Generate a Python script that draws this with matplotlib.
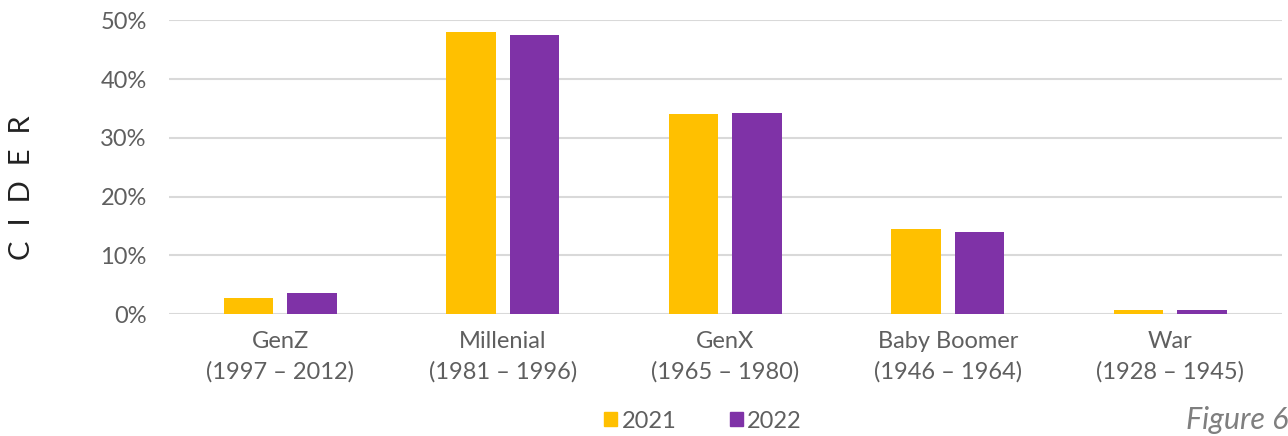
import matplotlib
matplotlib.use("Agg")
import matplotlib.pyplot as plt
import numpy as np
from matplotlib.ticker import FuncFormatter
from matplotlib.patches import Patch

categories = ["GenZ\n(1997 – 2012)", "Millenial\n(1981 – 1996)", "GenX\n(1965 – 1980)",
              "Baby Boomer\n(1946 – 1964)", "War\n(1928 – 1945)"]
series_names = ["2021", "2022"]
values_2021 = [2.7, 48.0, 34.1, 14.4, 0.7]
values_2022 = [3.5, 47.5, 34.2, 14.0, 0.6]
yticks = [0, 10, 20, 30, 40, 50]

colors = ["#FFC000", "#7F32A7"]
text_color = "#5F5F5F"
plt.rcParams['font.family'] = ['Lato', 'DejaVu Sans']

fig = plt.figure(figsize=(12.88, 4.36), dpi=100)
ax = fig.add_axes([169/1288, 1-314/436, (1281.5-169)/1288, (314-20.5)/436])

x = np.arange(len(categories))
w = 0.224
off = 0.143
ax.bar(x - off, values_2021, width=w, color=colors[0], zorder=3, label=series_names[0])
ax.bar(x + off, values_2022, width=w, color=colors[1], zorder=3, label=series_names[1])

ax.set_xlim(-0.5, len(categories) - 0.5)
ax.set_ylim(0, 50)
ax.set_yticks(yticks)
ax.yaxis.set_major_formatter(FuncFormatter(lambda v, p: f"{int(v)}%"))
ax.set_xticks(x)
ax.set_xticklabels(categories, linespacing=1.55)
ax.grid(axis='y', color="#D9D9D9", linewidth=1.5, zorder=0)
ax.set_axisbelow(True)
for s in ax.spines.values():
    s.set_visible(False)
ax.tick_params(axis='both', length=0, labelsize=17, colors=text_color)
ax.tick_params(axis='y', pad=16)
ax.tick_params(axis='x', pad=12)

fig.text(22/1288, 1-188/436, "C  I  D  E  R", rotation=90, ha='center', va='center',
         fontsize=21, color="#222222")

handles = [Patch(color=c, label=n) for c, n in zip(colors, series_names)]
leg = fig.legend(handles=handles, loc='center', bbox_to_anchor=(703/1288, 1-421/436),
           ncol=2, frameon=False, fontsize=17, handlelength=0.55, handleheight=0.55,
           handletextpad=0.2, columnspacing=2.25, labelcolor=text_color)

fig.text(1288/1288, 1-420/436, "Figure 6", ha='right', va='center', fontsize=22,
         style='italic', color="#7F7F7F")

fig.savefig("out.png", dpi=100)
